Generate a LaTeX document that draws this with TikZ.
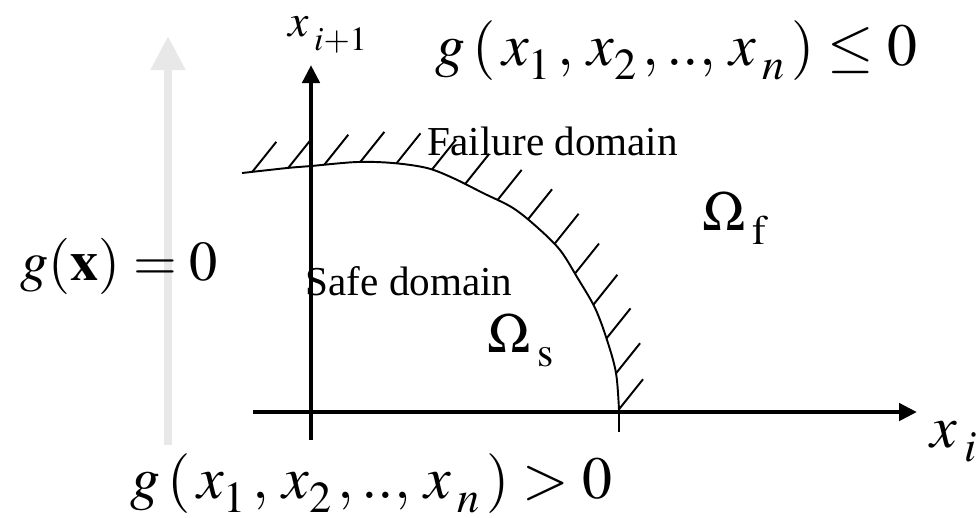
\documentclass[tikz,border=0pt]{standalone}
\usepackage{mathptmx}
\usepackage[no-math]{fontspec}
\setmainfont{Liberation Serif}
\usetikzlibrary{arrows.meta,decorations.markings}
\definecolor{fondo}{HTML}{E8E8E8}
\newcommand{\sbaj}[1]{\raisebox{-0.14cm}{$\scriptstyle #1$}}

\begin{document}
\begin{tikzpicture}[x=0.01cm,y=-0.01cm,
  eje/.style={line width=1.4pt,-{Triangle[length=0.18cm,width=0.17cm]}},
  frontera/.style={line width=0.55pt},
  rayado/.style={postaction={decorate},decoration={markings,
    mark=between positions 0.02 and 0.999 step 0.0699 with {\pgftransformresetnontranslations
      \draw[line width=0.55pt] (0,0) -- (0.24cm,0.3cm);}}},
  grande/.style={font=\fontsize{17}{20}\selectfont,inner sep=0pt,anchor=base west},
  rotulo/.style={font=\fontsize{11.7}{14}\selectfont,inner sep=0pt,anchor=base west}]
\useasboundingbox (0,0) rectangle (977,517);
% flecha gris de fondo
\draw[fondo,line width=0.08cm,-{Triangle[length=0.34cm,width=0.33cm]}] (168,445) -- (168,36);
% ejes
\coordinate (y0) at (311,440);
\coordinate (y1) at (311,65);
\coordinate (x0) at (253,412);
\coordinate (x1) at (917,412);
\draw[eje] (y0) -- (y1);
\draw[eje] (x0) -- (x1);
% estado limite g(x)=0
\draw[frontera,rayado] plot[smooth,tension=0.55] coordinates {(242,173) (287,168) (311,166) (357,162) (393,163) (427,168) (453,178) (483,193) (513,208) (538,228) (560,250) (577,277) (595,308) (607,340) (616,373) (619,410)};
\coordinate (fin) at (619,410);
\coordinate (fin-b) at (619,432);
\draw[frontera] (fin) -- (fin-b);
% rotulos
\node[grande,font=\fontsize{13}{15}\selectfont] (eje-y) at (288,36) {$x\,\sbaj{i+1}$};
\node[grande] (eje-x) at (930,447) {$x\,\sbaj{i}$};
\node[grande] (g-falla) at (435,65) {$g\,(\,x\sbaj{1}\,,\,x\sbaj{2}\,,..,\,x\,\sbaj{n}\,)\le 0$};
\node[grande] (g-seguro) at (130,498) {$g\,(\,x\sbaj{1}\,,\,x\sbaj{2}\,,..,\,x\,\sbaj{n}\,)> 0$};
\node[grande,font=\fontsize{16}{19}\selectfont] (g-cero) at (20,280) {$g(\mathbf{x})=0$};
\node[rotulo] (falla) at (427,155) {Failure domain};
\node[rotulo] (seguro) at (305,295) {Safe domain};
\node[grande,font=\fontsize{16}{19}\selectfont] (omega-s) at (487,352) {$\Omega\,\sbaj{\mathrm{s}}$};
\node[grande,font=\fontsize{16}{19}\selectfont] (omega-f) at (702,230) {$\Omega\,\sbaj{\mathrm{f}}$};
\end{tikzpicture}
\end{document}
